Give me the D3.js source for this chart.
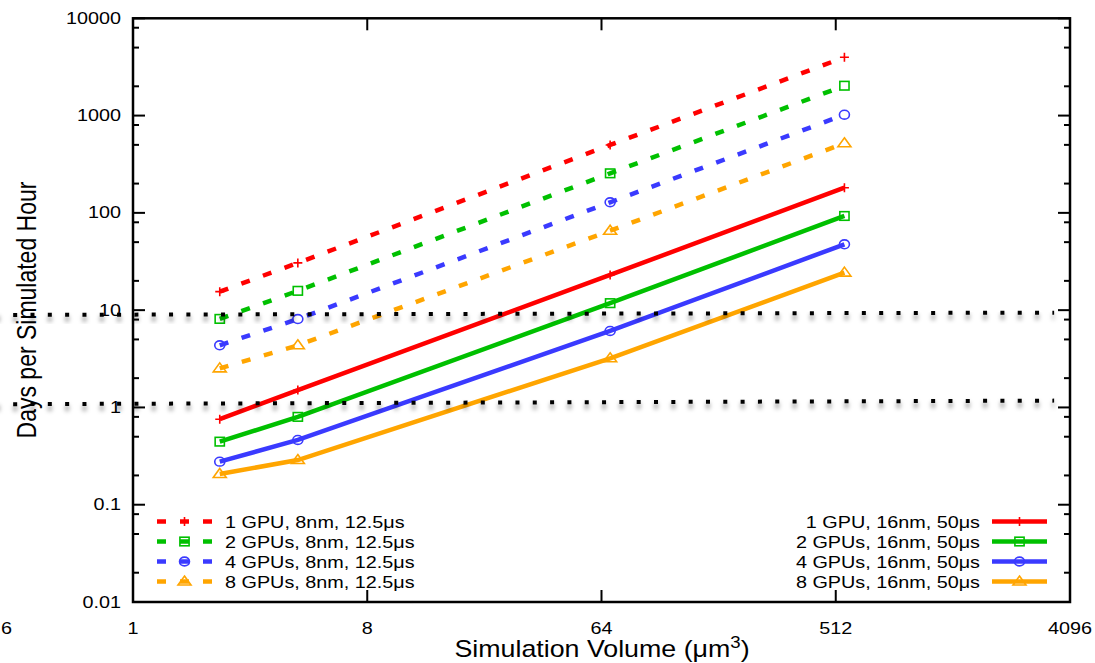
<!DOCTYPE html>
<html><head><meta charset="utf-8">
<script src="https://cdn.jsdelivr.net/npm/d3@7"></script>
<style>body{margin:0;background:#fff}svg{display:block}text{font-family:"Liberation Sans",Arial,sans-serif;fill:#000}</style>
</head><body>
<svg id="c" width="1095" height="663"></svg>
<script>
// ---- data ----
const volumes = [2.16, 4.32, 69.1, 553];
const seriesNames8 = ["1 GPU, 8nm, 12.5μs","2 GPUs, 8nm, 12.5μs","4 GPUs, 8nm, 12.5μs","8 GPUs, 8nm, 12.5μs"];
const seriesNames16 = ["1 GPU, 16nm, 50μs","2 GPUs, 16nm, 50μs","4 GPUs, 16nm, 50μs","8 GPUs, 16nm, 50μs"];
const gpu1_8nm = [15.5, 30.6, 499, 3975];
const gpu2_8nm = [8.13, 15.8, 255, 2028];
const gpu4_8nm = [4.35, 8.1, 128.5, 1021];
const gpu8_8nm = [2.52, 4.35, 65.6, 519];
const gpu1_16nm = [0.757, 1.51, 23.0, 181.5];
const gpu2_16nm = [0.445, 0.80, 11.8, 92.9];
const gpu4_16nm = [0.277, 0.463, 6.11, 47.5];
const gpu8_16nm = [0.207, 0.288, 3.2, 24.3];
const xTickValues = [1, 8, 64, 512, 4096];
const xTickLabels = ["1","8","64","512","4096"];
const yTickValues = [10000, 1000, 100, 10, 1, 0.1, 0.01];
const yTickLabels = ["10000","1000","100","10","1","0.1","0.01"];
const yMinorMult = [2, 5, 8];
const refLineX = [0.296, 3558];
const refLine1 = [8.93, 9.43];
const refLine2 = [1.079, 1.175];

// ---- styles ----
const colors = ["#ff0000","#00c000","#3a3aff","#ffa500"];
const markers = ["plus","square","circle","triangle"];
const SX = 1.165; // horizontal text stretch

const svg = d3.select("#c");
const L = 133, R = 1070, T = 18.3, B = 602;
const x = d3.scaleLog().base(8).domain([1, 4096]).range([L, R]);
const y = d3.scaleLog().domain([0.01, 10000]).range([B, T]);

const defs = svg.append("defs");
const f = defs.append("filter").attr("id","blur").attr("x","-5%").attr("y","-200%").attr("width","110%").attr("height","500%");
f.append("feGaussianBlur").attr("stdDeviation", 2);

function stretchedText(g, tx, ty, str, size, anchor, rot) {
  return g.append("text")
    .attr("transform", `translate(${tx},${ty}) scale(${SX},1)` + (rot ? ` rotate(${rot})` : ""))
    .attr("text-anchor", anchor).attr("font-size", size).text(str);
}

// frame
svg.append("rect").attr("x", L).attr("y", T).attr("width", R - L).attr("height", B - T)
  .attr("fill","none").attr("stroke","#000").attr("stroke-width",2.5);

// y ticks
const yt = svg.append("g");
yTickValues.forEach((v, i) => {
  const py = y(v);
  yt.append("line").attr("x1", L).attr("x2", L + 12).attr("y1", py).attr("y2", py).attr("stroke","#000").attr("stroke-width",2);
  yt.append("line").attr("x1", R).attr("x2", R - 12).attr("y1", py).attr("y2", py).attr("stroke","#000").attr("stroke-width",2);
  stretchedText(yt, 121, py + 5.5, yTickLabels[i], 17, "end");
  if (v < 10000) yMinorMult.forEach(m => {
    const mv = v * m; const pm = y(mv);
    yt.append("line").attr("x1", L).attr("x2", L + 6).attr("y1", pm).attr("y2", pm).attr("stroke","#000").attr("stroke-width",2);
    yt.append("line").attr("x1", R).attr("x2", R - 6).attr("y1", pm).attr("y2", pm).attr("stroke","#000").attr("stroke-width",2);
  });
});

// x ticks
const xt = svg.append("g");
xTickValues.forEach((v, i) => {
  const px = x(v);
  xt.append("line").attr("x1", px).attr("x2", px).attr("y1", B).attr("y2", B - 12).attr("stroke","#000").attr("stroke-width",2);
  xt.append("line").attr("x1", px).attr("x2", px).attr("y1", T).attr("y2", T + 12).attr("stroke","#000").attr("stroke-width",2);
  stretchedText(xt, px, 634, xTickLabels[i], 17, "middle");
});
stretchedText(xt, 1, 634, "6", 17, "start");

// axis titles
const xtitle = svg.append("text")
  .attr("transform", `translate(602,657) scale(${SX},1)`).attr("text-anchor","middle").attr("font-size",23);
xtitle.append("tspan").text("Simulation Volume (μm");
xtitle.append("tspan").attr("font-size",16).attr("dy",-9).text("3");
xtitle.append("tspan").attr("dy",9).text(")");
stretchedText(svg, 36, 310, "Days per Simulated Hour", 23, "middle", -90);

// marker drawing
function drawMarker(g, type, cx, cy, color) {
  const s = g.append("g").attr("transform", `translate(${cx},${cy})`);
  const st = {stroke: color, "stroke-width": 1.6, fill: "none"};
  let el;
  if (type === "plus") {
    el = s.append("path").attr("d","M-4.5,0H4.5M0,-4.5V4.5");
  } else if (type === "square") {
    el = s.append("rect").attr("x",-4.6).attr("y",-4.3).attr("width",9.2).attr("height",8.6);
  } else if (type === "circle") {
    el = s.append("ellipse").attr("rx",5).attr("ry",4.4);
  } else {
    el = s.append("path").attr("d","M0,-5.5L6.5,3.5L-6.5,3.5Z");
  }
  Object.entries(st).forEach(([k, v]) => el.attr(k, v));
}

const dashedSeries = [gpu1_8nm, gpu2_8nm, gpu4_8nm, gpu8_8nm];
const solidSeries = [gpu1_16nm, gpu2_16nm, gpu4_16nm, gpu8_16nm];
const line = d3.line().x(d => x(d[0])).y(d => y(d[1]));

const plot = svg.append("g");
dashedSeries.forEach((vals, i) => {
  const pts = volumes.map((v, j) => [v, vals[j]]);
  plot.append("path").attr("d", line(pts)).attr("fill","none").attr("stroke", colors[i])
    .attr("stroke-width", 4.5).attr("stroke-dasharray","9,14");
  pts.forEach(p => drawMarker(plot, markers[i], x(p[0]), y(p[1]), colors[i]));
});
solidSeries.forEach((vals, i) => {
  const pts = volumes.map((v, j) => [v, vals[j]]);
  plot.append("path").attr("d", line(pts)).attr("fill","none").attr("stroke", colors[i])
    .attr("stroke-width", 4.5);
  pts.forEach(p => drawMarker(plot, markers[i], x(p[0]), y(p[1]), colors[i]));
});

// legends
const rowY = [521.5, 541.5, 561.5, 581.5];
const lg = svg.append("g");
seriesNames8.forEach((name, i) => {
  const ry = rowY[i];
  lg.append("line").attr("x1",157).attr("x2",212).attr("y1",ry).attr("y2",ry)
    .attr("stroke",colors[i]).attr("stroke-width",4.5).attr("stroke-dasharray","9,14");
  drawMarker(lg, markers[i], 184.5, ry, colors[i]);
  stretchedText(lg, 225, ry + 6, name, 17, "start");
});
seriesNames16.forEach((name, i) => {
  const ry = rowY[i];
  lg.append("line").attr("x1",992).attr("x2",1047).attr("y1",ry).attr("y2",ry)
    .attr("stroke",colors[i]).attr("stroke-width",4.5);
  drawMarker(lg, markers[i], 1019.5, ry, colors[i]);
  stretchedText(lg, 980, ry + 6, name, 17, "end");
});

// dotted reference lines with soft shadow
[refLine1, refLine2].forEach(rl => {
  const x0 = x(refLineX[0]), x1 = x(refLineX[1]), y0 = y(rl[0]), y1 = y(rl[1]);
  svg.append("line").attr("x1",x0).attr("x2",x1).attr("y1",y0+4).attr("y2",y1+4)
    .attr("stroke","#000").attr("stroke-opacity",0.35).attr("stroke-width",6)
    .attr("stroke-dasharray","4,13.32").attr("filter","url(#blur)");
  svg.append("line").attr("x1",x0).attr("x2",x1).attr("y1",y0).attr("y2",y1)
    .attr("stroke","#000").attr("stroke-width",4).attr("stroke-dasharray","4,13.32");
});
</script>
</body></html>
